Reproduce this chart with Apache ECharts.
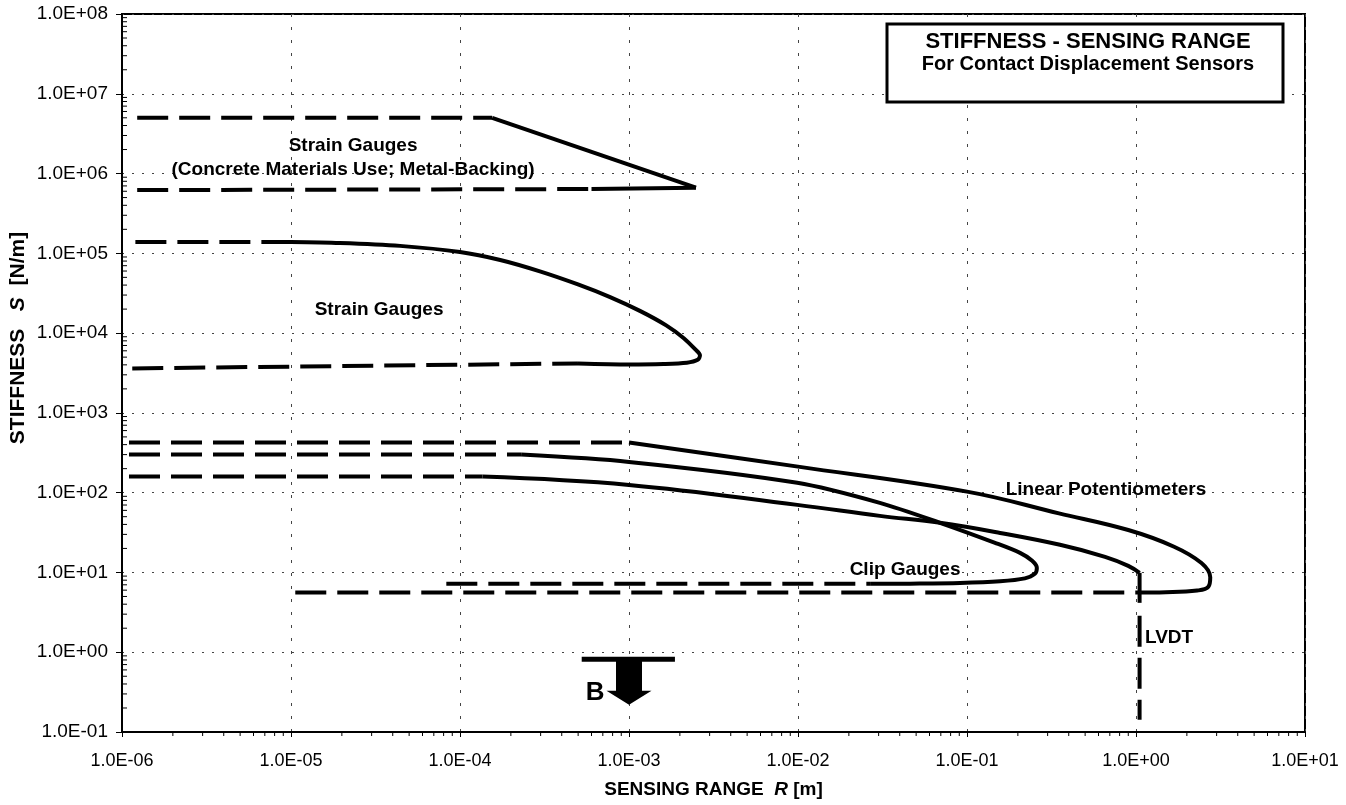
<!DOCTYPE html>
<html><head><meta charset="utf-8">
<script src="https://cdn.jsdelivr.net/npm/echarts@6/dist/echarts.min.js"></script>
<style>html,body{margin:0;padding:0;background:#fff}#c{width:1346px;height:805px}</style>
</head><body><div id="c"></div>
<script>
// ---- tick labels ----
const xTickLabels = ['1.0E-06','1.0E-05','1.0E-04','1.0E-03','1.0E-02','1.0E-01','1.0E+00','1.0E+01'];
const yTickLabels = ['1.0E-01','1.0E+00','1.0E+01','1.0E+02','1.0E+03','1.0E+04','1.0E+05','1.0E+06','1.0E+07','1.0E+08'];

// ---- data: [sensing range R (m), stiffness S (N/m)] ----
// Strain gauges (concrete materials use; metal-backing)
const sgMetalTopDashed = [[1.23e-6, 5.0e6], [1.55e-4, 5.0e6]];
const sgMetalTopSolid  = [[1.55e-4, 5.0e6], [2.49e-3, 6.65e5]];
const sgMetalBotDashed = [[1.23e-6, 6.2e5], [6.0e-4, 6.4e5]];
const sgMetalBotSolid  = [[6.0e-4, 6.4e5], [2.49e-3, 6.65e5]];
// Strain gauges
const sgTopDashed = [[1.2e-6, 1.39e5], [1.0e-5, 1.39e5]];
const sgCurve = [[1.0e-5, 1.39e5], [1.95e-5, 1.35e5], [4.42e-5, 1.24e5], [1.0e-4, 1.04e5], [1.73e-4, 8.26e4],
  [2.97e-4, 5.95e4], [4.99e-4, 4.08e4], [7.73e-4, 2.83e4], [1.16e-3, 1.90e4], [1.66e-3, 1.25e4],
  [2.11e-3, 8.63e3], [2.46e-3, 6.28e3], [2.63e-3, 5.26e3], [2.55e-3, 4.62e3], [2.2e-3, 4.25e3],
  [1.6e-3, 4.1e3], [1.0e-3, 4.05e3], [4.99e-4, 4.17e3]];
const sgBotDashed = [[1.15e-6, 3.61e3], [4.99e-4, 4.17e3]];
// Linear potentiometers
const lpTopDashed = [[1.1e-6, 425], [1.0e-3, 425]];
const lpCurve = [[1.0e-3, 425], [1.0e-2, 212], [0.1, 103], [0.35, 55], [0.9, 34], [1.68, 21],
  [2.44, 13.1], [2.75, 8.7], [2.68, 6.6], [2.3, 5.93], [1.5, 5.65], [1.0, 5.6]];
const lpBotDashed = [[1.06e-5, 5.6], [1.0, 5.6]];
// Clip gauges
const cgTopDashed = [[1.1e-6, 300], [2.3e-4, 300]];
const cgCurve = [[2.3e-4, 300], [1.0e-3, 243], [9.9e-3, 133], [0.0305, 74.5], [0.0692, 41.9],
  [0.1466, 23.5], [0.206, 17.6], [0.243, 14.0], [0.259, 11.4], [0.252, 9.6], [0.220, 8.43],
  [0.157, 7.74], [0.091, 7.37], [0.046, 7.24], [0.027, 7.2]];
const cgBotDashed = [[8.3e-5, 7.2], [0.027, 7.2]];
// LVDT
const lvTopDashed = [[1.1e-6, 159], [1.36e-4, 159]];
const lvCurve = [[1.36e-4, 159], [1.0e-3, 125], [9.9e-3, 70.3], [0.0305, 51.2], [0.0692, 41.9],
  [0.157, 31.3], [0.355, 22.2], [0.656, 15.7], [0.9, 12.1], [1.05, 9.9]];
const lvVertSolid  = [[1.05, 9.9], [1.05, 4.16]];
const lvVertDashed = [[1.05, 2.86], [1.05, 0.142]];
// "B" marker
const bBar = [[5.25e-4, 0.818], [1.87e-3, 0.818]];
const bArrow = [[1.0e-3, 0.42]];

// ---- annotations ----
const annotations = [
  {text: 'Strain Gauges', at: [2.33e-5, 2.22e6]},
  {text: '(Concrete Materials Use; Metal-Backing)', at: [2.33e-5, 1.11e6]},
  {text: 'Strain Gauges', at: [3.32e-5, 1.95e4]},
  {text: 'Linear Potentiometers', at: [0.664, 108]},
  {text: 'Clip Gauges', at: [0.043, 10.8]},
];
const lvdtLabel = {text: 'LVDT', at: [1.13, 1.51]};
const bLabel = {text: 'B', at: [6.3e-4, 0.31]};

const minorMult = [2,3,4,5,6,7,8,9];
const FONT = '"Liberation Sans", Arial, Helvetica, sans-serif';

function tickLabel(arr, first) {
  return function (v) {
    const e = Math.round(Math.log10(v));
    return arr[e - first] || '';
  };
}
const DASH = [31, 11];
function ln(data, dashed, smooth, width) {
  return {
    type: 'line', data: data, symbol: 'none', smooth: smooth || false,
    silent: true, animation: false, z: 3,
    lineStyle: {color: '#000', width: width || 4, type: dashed ? DASH : 'solid', cap: 'butt', join: 'round', opacity: 1}
  };
}
function textSeries(items, size, align) {
  return {type: 'scatter', silent: true, z: 6, symbolSize: 1, itemStyle: {opacity: 1, color: 'rgba(0,0,0,0)'},
    data: items.map(a => ({value: a.at, name: a.text})),
    label: {show: true, position: 'inside', align: align || 'center', verticalAlign: 'middle', formatter: '{b}',
      fontFamily: FONT, fontSize: size, fontWeight: 'bold', color: '#000', opacity: 1}};
}

const xMinor = [], yMinor = [];
for (let e = -6; e < 1; e++) minorMult.forEach(m => xMinor.push(m * Math.pow(10, e)));
for (let e = -1; e < 8; e++) minorMult.forEach(m => yMinor.push(m * Math.pow(10, e)));

const chart = echarts.init(document.getElementById('c'), null, {renderer: 'canvas'});
const option = {
  backgroundColor: '#fff',
  animation: false,
  textStyle: {fontFamily: FONT},
  grid: {left: 122, right: 41, top: 14, bottom: 73, show: true, borderColor: '#000', borderWidth: 2, backgroundColor: 'transparent'},
  xAxis: {
    type: 'log', logBase: 10, min: 1e-6, max: 10, splitNumber: 7,
    name: 'SENSING RANGE  {i|R} [m]', nameLocation: 'middle', nameGap: 48,
    nameTextStyle: {fontFamily: FONT, fontSize: 19, fontWeight: 'bold', color: '#000',
      rich: {i: {fontFamily: FONT, fontSize: 19, fontWeight: 'bold', fontStyle: 'italic', color: '#000'}}},
    axisLine: {show: true, lineStyle: {color: '#000', width: 2}},
    axisTick: {show: true, inside: false, length: 5, lineStyle: {color: '#000', width: 1}},
    axisLabel: {formatter: tickLabel(xTickLabels, -6), fontFamily: FONT, fontSize: 18, color: '#000', margin: 20},
    splitLine: {show: true, lineStyle: {color: '#444', width: 1, type: [3, 10]}},
    minorTick: {show: false}
  },
  yAxis: {
    type: 'log', logBase: 10, min: 0.1, max: 1e8, splitNumber: 9,
    axisLine: {show: true, lineStyle: {color: '#000', width: 2}},
    axisTick: {show: true, inside: false, length: 6, lineStyle: {color: '#000', width: 1}},
    axisLabel: {formatter: tickLabel(yTickLabels, -1), fontFamily: FONT, fontSize: 19, color: '#000', margin: 14},
    splitLine: {show: true, lineStyle: {color: '#444', width: 1, type: [2, 8]}},
    minorTick: {show: false}
  },
  series: [
    {type: 'custom', name: 'xMinor', data: xMinor, silent: true, clip: false, z: 4,
      renderItem: function (params, api) {
        const p = api.coord([api.value(0), 0.1]);
        return {type: 'line', shape: {x1: p[0], y1: p[1], x2: p[0], y2: p[1] + 4}, style: {stroke: '#000', lineWidth: 1}};
      }, encode: {x: 0}},
    {type: 'custom', name: 'yMinor', data: yMinor.map(v => [1e-6, v]), silent: true, clip: false, z: 4,
      renderItem: function (params, api) {
        const p = api.coord([1e-6, api.value(1)]);
        return {type: 'line', shape: {x1: p[0], y1: p[1], x2: p[0] + 5, y2: p[1]}, style: {stroke: '#000', lineWidth: 1}};
      }, encode: {x: 0, y: 1}},
    ln(sgMetalTopDashed, true), ln(sgMetalTopSolid, false), ln(sgMetalBotDashed, true), ln(sgMetalBotSolid, false),
    ln(sgTopDashed, true), ln(sgCurve, false, 0.3), ln(sgBotDashed, true),
    ln(lpTopDashed, true), ln(lpCurve, false, 0.4), ln(lpBotDashed, true),
    ln(cgTopDashed, true), ln(cgCurve, false, 0.3), ln(cgBotDashed, true),
    ln(lvTopDashed, true), ln(lvCurve, false, 0.4), ln(lvVertSolid, false), ln(lvVertDashed, true),
    ln(bBar, false, false, 5),
    {type: 'scatter', data: bArrow, silent: true, z: 5,
      symbol: 'path://M9.5,0 L35.5,0 L35.5,31 L45,31 L22.5,45 L0,31 L9.5,31 Z', symbolSize: [45, 45],
      itemStyle: {color: '#000', opacity: 1}},
    textSeries(annotations, 19),
    textSeries([lvdtLabel], 19, 'left'),
    textSeries([bLabel], 26)
  ],
  graphic: [
    {type: 'text', z: 50, x: 18, y: 338, rotation: Math.PI / 2,
      style: {text: '{b|STIFFNESS   }{i|S}{b|  [N/m]}', textAlign: 'center', textVerticalAlign: 'middle',
        rich: {b: {fontFamily: FONT, fontSize: 21, fontWeight: 'bold', fill: '#000'},
               i: {fontFamily: FONT, fontSize: 21, fontWeight: 'bold', fontStyle: 'italic', fill: '#000'}}}},
    {type: 'rect', z: 100, shape: {x: 887, y: 24, width: 396, height: 78},
      style: {fill: '#fff', stroke: '#000', lineWidth: 3}},
    {type: 'text', z: 101, x: 1088, y: 42,
      style: {text: 'STIFFNESS - SENSING RANGE', fill: '#000', font: 'bold 22px ' + FONT, textAlign: 'center', textVerticalAlign: 'middle'}},
    {type: 'text', z: 101, x: 1088, y: 64,
      style: {text: 'For Contact Displacement Sensors', fill: '#000', font: 'bold 20px ' + FONT, textAlign: 'center', textVerticalAlign: 'middle'}}
  ]
};
chart.setOption(option);
</script>
</body></html>
